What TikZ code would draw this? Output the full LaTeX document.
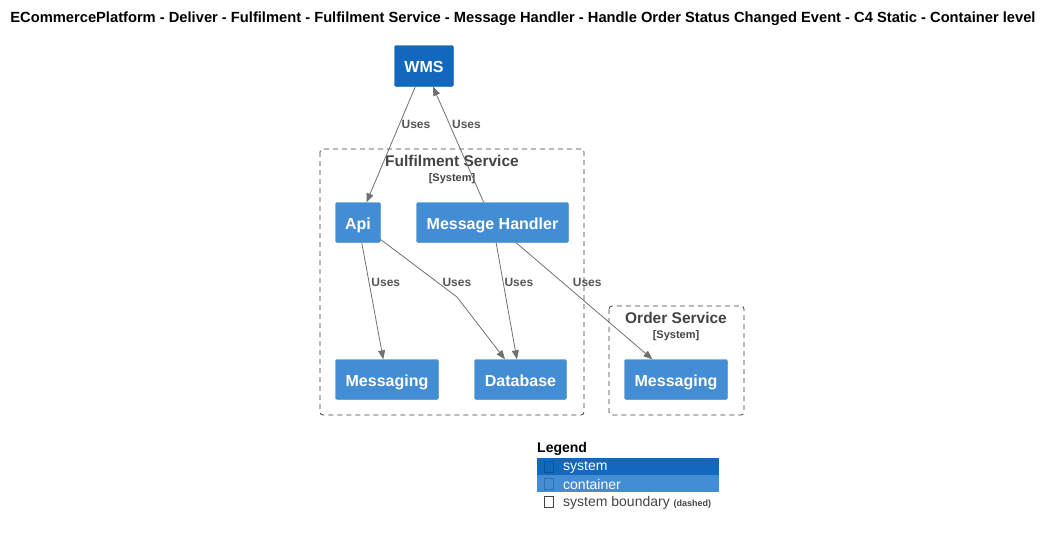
\documentclass[tikz,border=0pt]{standalone}
\usepackage{fontspec}
\setmainfont{Liberation Sans}
\usetikzlibrary{arrows.meta}
\definecolor{sysblue}{HTML}{1168BD}
\definecolor{contblue}{HTML}{438DD5}
\definecolor{edgegray}{HTML}{707070}
\definecolor{labelgray}{HTML}{555555}
\definecolor{bordergray}{HTML}{444444}

\begin{document}
\begin{tikzpicture}[x=1pt, y=-1pt,
  system/.style = {rectangle, rounded corners=2pt, fill=sysblue, draw=sysblue!85!black,
    text=white, font=\fontsize{16}{19}\selectfont\bfseries, minimum height=41pt, inner sep=0pt,
    text height=13.5pt, text depth=0pt},
  container/.style = {rectangle, rounded corners=2pt, fill=contblue, draw=contblue!90!black,
    text=white, font=\fontsize{16}{19}\selectfont\bfseries, minimum height=40pt, inner sep=0pt,
    text height=13.5pt, text depth=0pt},
  uses/.style = {draw=edgegray, line width=0.8pt, -{Triangle[width=7pt, length=9pt]}},
  useslabel/.style = {font=\fontsize{12}{14}\selectfont\bfseries, text=labelgray, anchor=west, inner sep=1pt},
  boundary/.style = {draw=bordergray!90!black, line width=0.8pt, dash pattern=on 5pt off 4pt, rounded corners=3pt},
  boundtitle/.style = {font=\fontsize{15.5}{18}\selectfont\bfseries, text=bordergray, inner sep=0pt},
  boundtype/.style = {font=\fontsize{11}{13}\selectfont\bfseries, text=bordergray, inner sep=0pt},
  legendtext/.style = {anchor=west, font=\fontsize{14}{16}\selectfont, inner sep=0pt},
]
\useasboundingbox (0,0) rectangle (1055,536);

% title
\node[font=\fontsize{14.7}{17}\selectfont\bfseries] (title) at (523,19)
  {ECommercePlatform - Deliver - Fulfilment - Fulfilment Service - Message Handler - Handle Order Status Changed Event - C4 Static - Container level};

% boundaries
\draw[boundary] (320,149) rectangle (584,415);
\node[boundtitle] (fulfilment) at (452,161) {Fulfilment Service};
\node[boundtype] (fulfilmenttype) at (452,178.5) {[System]};
\draw[boundary] (609,306) rectangle (744,415);
\node[boundtitle] (order) at (676,318) {Order Service};
\node[boundtype] (ordertype) at (676,335.5) {[System]};

% elements
\node[system, minimum width=59pt] (wms) at (424,66) {WMS};
\node[container, minimum width=45pt] (api) at (358,222.5) {Api};
\node[container, minimum width=152pt] (handler) at (492.5,222.5) {Message Handler};
\node[container, minimum width=103pt] (fmessaging) at (387,379.5) {Messaging};
\node[container, minimum width=92pt] (database) at (520.5,379.5) {Database};
\node[container, minimum width=103pt] (omessaging) at (676,379.5) {Messaging};
\coordinate (apibend) at (457,297);

% relationships
\draw[uses] (wms) -- (api) node[useslabel, pos=0.33, xshift=1pt] {Uses};
\draw[uses] (handler) -- (wms) node[useslabel, pos=0.67, xshift=1pt] {Uses};
\draw[uses] (api) -- (fmessaging) node[useslabel, pos=0.34, xshift=1pt] {Uses};
\draw[uses] (api) -- node[useslabel, pos=0.74, xshift=4pt] {Uses} (apibend) -- (database);
\draw[uses] (handler) -- (database) node[useslabel, pos=0.34, xshift=0pt] {Uses};
\draw[uses] (handler) -- (omessaging) node[useslabel, pos=0.34, xshift=9pt] {Uses};

% legend
\node[legendtext, font=\fontsize{14}{16}\selectfont\bfseries] (legend) at (537,449) {Legend};
\fill[sysblue] (537,458) rectangle (719,475);
\fill[contblue] (537,475) rectangle (719,492);
\draw[black, opacity=0.2] (544,461) rectangle (553,472);
\draw[black, opacity=0.2] (544,478) rectangle (553,489);
\draw[bordergray] (544,496) rectangle (553,507);
\node[legendtext, text=white] (lsystem) at (563,467.5) {system};
\node[legendtext, text=white] (lcontainer) at (563,484.5) {container};
\node[legendtext, text=bordergray] (lboundary) at (563,503)
  {system boundary {\fontsize{9}{10}\selectfont\bfseries (dashed)}};
\end{tikzpicture}
\end{document}
